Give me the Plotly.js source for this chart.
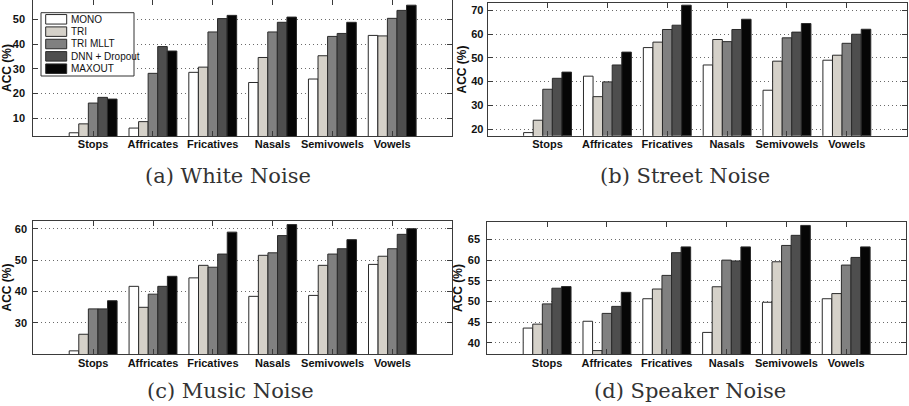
<!DOCTYPE html>
<html>
<head>
<meta charset="utf-8">
<script src="https://cdn.plot.ly/plotly-3.0.1.min.js"></script>
<style>html,body{margin:0;padding:0;background:#fff;}#chart{width:909px;height:406px;}</style>
</head>
<body>
<div id="chart"></div>
<script>
// ---- data ----
const categories = ['Stops', 'Affricates', 'Fricatives', 'Nasals', 'Semivowels', 'Vowels'];
const seriesNames = ['MONO', 'TRI', 'TRI MLLT', 'DNN + Dropout', 'MAXOUT'];
const seriesColors = ['#ffffff', '#d5d1c9', '#808080', '#4e4e4e', '#060606'];
const panelCaptions = ['(a) White Noise', '(b) Street Noise', '(c) Music Noise', '(d) Speaker Noise'];

// (a) White Noise
const whiteMONO   = [4.2, 6.1, 28.6, 24.5, 25.9, 43.5];
const whiteTRI    = [7.8, 8.7, 30.7, 34.6, 35.3, 43.3];
const whiteMLLT   = [16.2, 28.2, 44.9, 44.9, 43.1, 50.4];
const whiteDNN    = [18.5, 39.0, 50.3, 48.8, 44.3, 53.6];
const whiteMAXOUT = [17.8, 37.2, 51.6, 50.9, 48.8, 55.7];

// (b) Street Noise
const streetMONO   = [18.6, 42.3, 54.3, 47.0, 36.4, 49.0];
const streetTRI    = [23.8, 33.7, 56.6, 57.7, 48.6, 51.1];
const streetMLLT   = [36.8, 39.9, 61.9, 56.8, 58.4, 56.1];
const streetDNN    = [41.4, 47.0, 63.7, 61.9, 60.8, 59.9];
const streetMAXOUT = [44.0, 52.4, 72.1, 66.2, 64.4, 62.0];

// (c) Music Noise
const musicMONO   = [21.0, 41.6, 44.3, 38.4, 38.7, 48.6];
const musicTRI    = [26.3, 34.9, 48.3, 51.5, 48.3, 51.2];
const musicMLLT   = [34.4, 39.1, 47.7, 52.3, 51.9, 53.6];
const musicDNN    = [34.4, 41.6, 51.9, 57.8, 53.6, 58.2];
const musicMAXOUT = [37.0, 44.8, 58.9, 61.3, 56.5, 60.0];

// (d) Speaker Noise
const speakerMONO   = [43.55, 45.2, 50.65, 42.5, 49.8, 50.65];
const speakerTRI    = [44.5, 38.1, 53.0, 53.55, 59.6, 51.9];
const speakerMLLT   = [49.4, 47.1, 56.3, 60.0, 63.55, 58.8];
const speakerDNN    = [53.2, 48.8, 61.8, 59.8, 66.0, 60.65];
const speakerMAXOUT = [53.6, 52.2, 63.2, 63.2, 68.4, 63.2];

// y tick values per panel
const whiteTicks   = [10, 20, 30, 40, 50];
const streetTicks  = [20, 30, 40, 50, 60, 70];
const musicTicks   = [30, 40, 50, 60];
const speakerTicks = [40, 45, 50, 55, 60, 65];

// ---- layout helpers ----
const W = 909, H = 406;
const px = v => v / W;
const py = v => 1 - v / H;

const panelData = [
  [whiteMONO, whiteTRI, whiteMLLT, whiteDNN, whiteMAXOUT],
  [streetMONO, streetTRI, streetMLLT, streetDNN, streetMAXOUT],
  [musicMONO, musicTRI, musicMLLT, musicDNN, musicMAXOUT],
  [speakerMONO, speakerTRI, speakerMLLT, speakerDNN, speakerMAXOUT]
];
const panelTicks = [whiteTicks, streetTicks, musicTicks, speakerTicks];

// pixel geometry of each plot box: left, right, top, bottom, y range, label standoff
const geom = [
  {l: 33.3, r: 452, t: 0, b: 136, yr: [2.9, 57.8], ls: 5, cap: [228, 176.5]},
  {l: 487.7, r: 906.7, t: 3.3, b: 135.7, yr: [17.3, 72.9], ls: 1, cap: [685, 176.5]},
  {l: 33.3, r: 452.3, t: 220.7, b: 354.3, yr: [19.9, 62.55], ls: 3, cap: [230, 391]},
  {l: 487.3, r: 906, t: 221.7, b: 354.3, yr: [37.2, 69.3], ls: 4, cap: [690, 391]}
];

const axisColor = '#3a3a3a';
const tickFont = {family: 'Liberation Sans, Arial, sans-serif', size: 11, color: '#111', weight: 'bold'};
const titleFont = {family: 'Liberation Sans, Arial, sans-serif', size: 12, color: '#111', weight: 'bold'};

const traces = [];
const layout = {
  width: W, height: H,
  margin: {l: 0, r: 0, t: 0, b: 0},
  paper_bgcolor: '#fff', plot_bgcolor: '#fff',
  barmode: 'group', bargap: 0.2, bargroupgap: 0,
  showlegend: false,
  shapes: [], annotations: []
};

geom.forEach((g, p) => {
  const n = p + 1;
  const xa = 'xaxis' + (n === 1 ? '' : n);
  const ya = 'yaxis' + (n === 1 ? '' : n);
  const xr = 'x' + (n === 1 ? '' : n);
  const yr = 'y' + (n === 1 ? '' : n);
  panelData[p].forEach((vals, s) => {
    traces.push({
      type: 'bar', x: categories, y: vals, name: seriesNames[s],
      xaxis: xr, yaxis: yr, offsetgroup: String(s),
      marker: {color: seriesColors[s], line: {color: '#2a2a2a', width: 1}},
      showlegend: false, hoverinfo: 'x+y+name'
    });
  });
  layout[xa] = {
    domain: [px(g.l), px(g.r)], anchor: yr, type: 'category',
    range: [-1, categories.length], showline: true, mirror: 'ticks',
    linecolor: axisColor, linewidth: 1, ticks: 'inside', ticklen: 5,
    tickcolor: axisColor, tickfont: tickFont, showgrid: false, zeroline: false,
    ticklabelstandoff: -2, fixedrange: true
  };
  layout[ya] = {
    domain: [py(g.b), py(g.t)], anchor: xr, range: g.yr,
    tickvals: panelTicks[p], showline: true, mirror: 'ticks',
    linecolor: axisColor, linewidth: 1, ticks: 'inside', ticklen: 5,
    tickcolor: axisColor, tickfont: tickFont, ticklabelstandoff: g.ls,
    showgrid: true, gridcolor: '#6a6a6a', griddash: '1px,3px', gridwidth: 1,
    zeroline: false, fixedrange: true,
    title: {text: 'ACC (%)', font: titleFont, standoff: 2}
  };
  layout.annotations.push({
    xref: 'paper', yref: 'paper', x: px(g.cap[0]), y: py(g.cap[1]),
    xanchor: 'center', yanchor: 'middle', showarrow: false,
    text: panelCaptions[p],
    font: {family: 'DejaVu Serif, serif', size: 21, color: '#333'}
  });
});

// manual legend in panel (a)
const leg = {l: 41, r: 134, t: 12.7, b: 76, row0: 19.3, dy: 12.35, sw0: 45.7, sw1: 66.7, swh: 9.5, tx: 68.5};
layout.shapes.push({
  type: 'rect', xref: 'paper', yref: 'paper',
  x0: px(leg.l), x1: px(leg.r), y0: py(leg.b), y1: py(leg.t),
  fillcolor: '#fff', line: {color: '#333', width: 1}, layer: 'above'
});
seriesNames.forEach((name, i) => {
  const cy = leg.row0 + i * leg.dy;
  layout.shapes.push({
    type: 'rect', xref: 'paper', yref: 'paper',
    x0: px(leg.sw0), x1: px(leg.sw1), y0: py(cy + leg.swh / 2), y1: py(cy - leg.swh / 2),
    fillcolor: seriesColors[i], line: {color: '#2a2a2a', width: 1}, layer: 'above'
  });
  layout.annotations.push({
    xref: 'paper', yref: 'paper', x: px(leg.tx), y: py(cy),
    xanchor: 'left', yanchor: 'middle', showarrow: false, text: name,
    font: {family: 'Liberation Sans, Arial, sans-serif', size: 10, color: '#111'}
  });
});

Plotly.newPlot('chart', traces, layout, {displayModeBar: false, staticPlot: true});
</script>
</body>
</html>
